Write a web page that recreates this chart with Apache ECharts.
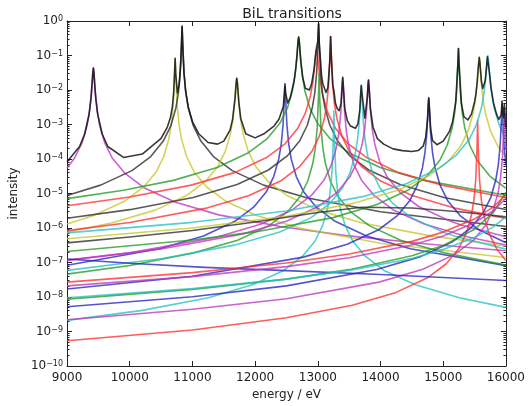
<!DOCTYPE html>
<html>
<head>
<meta charset="utf-8">
<script src="https://cdn.jsdelivr.net/npm/echarts@6/dist/echarts.min.js"></script>
<style>
html,body{margin:0;padding:0;background:#fff;}
#chart{width:528px;height:406px;}
</style>
</head>
<body>
<div id="chart"></div>
<script>
// ---- values: [energy eV, intensity] ----
const lineM9420 = [[9000,5.5e-5],[9120,1.07e-4],[9240,2.97e-4],[9320,9.5e-4],[9360,2.53e-3],[9390,8.6e-3],[9410,0.0298],[9420,0.043],[9430,0.0298],[9450,8.6e-3],[9480,2.53e-3],[9520,9.5e-4],[9600,2.97e-4],[9720,1.07e-4],[9920,3.9e-5],[10220,1.5e-5],[10720,5.7e-6],[11420,2.4e-6],[12400,1.1e-6],[13420,6.1e-7],[14700,3.5e-7],[16000,2.2e-7]];
const lineY10724 = [[9000,1.31e-6],[9424,2.3e-6],[9924,6.1e-6],[10224,1.56e-5],[10424,4.3e-5],[10544,1.2e-4],[10624,3.9e-4],[10664,1.07e-3],[10694,4.1e-3],[10714,0.0263],[10724,0.08],[10734,0.0263],[10754,4.1e-3],[10784,1.07e-3],[10824,3.9e-4],[10904,1.2e-4],[11024,4.3e-5],[11224,1.56e-5],[11524,6.1e-6],[12024,2.3e-6],[12724,9.8e-7],[14000,3.6e-7],[16000,1.4e-7]];
const lineK10835 = [[9000,8.8e-6],[9535,1.75e-5],[10035,4.6e-5],[10335,1.18e-4],[10535,3.3e-4],[10655,9.1e-4],[10735,2.95e-3],[10775,8.1e-3],[10805,0.0314],[10825,0.208],[10835,0.7],[10845,0.208],[10865,0.0314],[10895,8.1e-3],[10935,2.95e-3],[11015,9.1e-4],[11135,3.3e-4],[11335,1.18e-4],[11635,4.6e-5],[12135,1.75e-5],[12835,7.4e-6],[14000,2.95e-6],[16000,1.11e-6]];
const lineY11707 = [[9000,7.6e-7],[9707,1.4e-6],[10407,3.3e-6],[10907,8.8e-6],[11207,2.24e-5],[11407,6.2e-5],[11527,1.72e-4],[11607,5.5e-4],[11647,1.46e-3],[11677,4.9e-3],[11697,0.0158],[11707,0.022],[11717,0.0158],[11737,4.9e-3],[11767,1.46e-3],[11807,5.5e-4],[11887,1.72e-4],[12007,6.2e-5],[12207,2.24e-5],[12507,8.8e-6],[13007,3.3e-6],[13707,1.4e-6],[14800,5.9e-7],[16000,3.0e-7]];
const lineB12476 = [[9000,8.3e-8],[10476,2.5e-7],[11176,5.9e-7],[11676,1.56e-6],[11976,4e-6],[12176,1.1e-5],[12296,3.1e-5],[12376,9.9e-5],[12416,2.7e-4],[12446,1.02e-3],[12466,5.6e-3],[12476,0.0126],[12486,5.6e-3],[12506,1.02e-3],[12536,2.7e-4],[12576,9.9e-5],[12656,3.1e-5],[12776,1.1e-5],[12976,4e-6],[13276,1.56e-6],[13776,5.9e-7],[14476,2.5e-7],[16000,8.1e-8]];
const lineG12694 = [[9000,7.1e-6],[9900,1.24e-5],[10694,2.4e-5],[11394,5.7e-5],[11894,1.52e-4],[12194,3.9e-4],[12394,1.08e-3],[12514,2.97e-3],[12594,9.4e-3],[12634,0.025],[12664,0.082],[12684,0.252],[12694,0.34],[12704,0.252],[12724,0.082],[12754,0.025],[12794,9.4e-3],[12874,2.97e-3],[12994,1.08e-3],[13194,3.9e-4],[13494,1.52e-4],[13994,5.7e-5],[14694,2.4e-5],[16000,8.9e-6]];
const lineR12981 = [[9000,4.4e-6],[10000,7.9e-6],[10981,1.75e-5],[11681,4.1e-5],[12181,1.1e-4],[12481,2.8e-4],[12681,7.8e-4],[12801,2.14e-3],[12881,6.7e-3],[12921,0.0172],[12951,0.0507],[12971,0.12],[12981,0.145],[12991,0.12],[13011,0.0507],[13041,0.0172],[13081,6.7e-3],[13161,2.14e-3],[13281,7.8e-4],[13481,2.8e-4],[13781,1.1e-4],[14281,4.1e-5],[14981,1.75e-5],[16000,7.7e-6]];
const lineK13012 = [[9000,1.91e-6],[10000,3.4e-6],[11012,7.7e-6],[11712,1.82e-5],[12212,4.8e-5],[12512,1.23e-4],[12712,3.4e-4],[12832,9.5e-4],[12912,3.08e-3],[12952,8.4e-3],[12982,0.0328],[13002,0.222],[13012,0.8],[13022,0.222],[13042,0.0328],[13072,8.4e-3],[13112,3.08e-3],[13192,9.5e-4],[13312,3.4e-4],[13512,1.23e-4],[13812,4.8e-5],[14312,1.82e-5],[15012,7.7e-6],[16000,3.45e-6]];
const lineG13020 = [[9000,4.6e-8],[10000,8.2e-8],[11020,1.9e-7],[11720,4.4e-7],[12220,1.17e-6],[12520,3e-6],[12720,8.3e-6],[12840,2.3e-5],[12920,7.5e-5],[12960,2.07e-4],[12990,8.1e-4],[13010,6e-3],[13020,0.03],[13030,6e-3],[13050,8.1e-4],[13080,2.07e-4],[13120,7.5e-5],[13200,2.3e-5],[13320,8.3e-6],[13520,3e-6],[13820,1.17e-6],[14320,4.4e-7],[15020,1.9e-7],[16000,8.4e-8]];
const lineR13204 = [[9000,8.4e-7],[10000,1.44e-6],[11204,3.7e-6],[11904,8.8e-6],[12404,2.3e-5],[12704,5.9e-5],[12904,1.64e-4],[13024,4.6e-4],[13104,1.48e-3],[13144,4.06e-3],[13174,0.0157],[13194,0.104],[13204,0.35],[13214,0.104],[13234,0.0157],[13264,4.06e-3],[13304,1.48e-3],[13384,4.6e-4],[13504,1.64e-4],[13704,5.9e-5],[14004,2.3e-5],[14504,8.8e-6],[15204,3.7e-6],[16000,1.9e-6]];
const lineC13256 = [[9000,2.1e-9],[10200,4.1e-9],[11256,9.5e-9],[11956,2.25e-8],[12456,5.9e-8],[12756,1.52e-7],[12956,4.2e-7],[13076,1.17e-6],[13156,3.8e-6],[13196,1.06e-5],[13226,4.2e-5],[13246,3.3e-4],[13256,2.4e-3],[13266,3.3e-4],[13286,4.2e-5],[13316,1.06e-5],[13356,3.8e-6],[13436,1.17e-6],[13556,4.2e-7],[13756,1.52e-7],[14056,5.9e-8],[14556,2.25e-8],[15256,9.5e-9],[16000,5e-9]];
const lineM13397 = [[9000,1.14e-7],[10000,1.9e-7],[11397,5.5e-7],[12097,1.3e-6],[12597,3.4e-6],[12897,8.8e-6],[13097,2.44e-5],[13217,6.8e-5],[13297,2.18e-4],[13337,5.9e-4],[13367,2.2e-3],[13387,0.011],[13397,0.022],[13407,0.011],[13427,2.2e-3],[13457,5.9e-4],[13497,2.18e-4],[13577,6.8e-5],[13697,2.44e-5],[13897,8.8e-6],[14197,3.4e-6],[14697,1.3e-6],[15397,5.5e-7],[16000,3.2e-7]];
const lineC13693 = [[9000,5.9e-8],[10500,1.28e-7],[11693,3.25e-7],[12393,7.7e-7],[12893,2.0e-6],[13193,5.2e-6],[13393,1.44e-5],[13513,4e-5],[13593,1.29e-4],[13633,3.5e-4],[13663,1.3e-3],[13683,6.5e-3],[13693,0.013],[13703,6.5e-3],[13723,1.3e-3],[13753,3.5e-4],[13793,1.29e-4],[13873,4e-5],[13993,1.44e-5],[14193,5.2e-6],[14493,2.0e-6],[14993,7.7e-7],[15200,5.7e-7],[16000,2.44e-7]];
const lineM13808 = [[9000,1.17e-7],[10500,2.47e-7],[11808,6.75e-7],[12508,1.6e-6],[13008,4.2e-6],[13308,1.08e-5],[13508,3e-5],[13628,8.3e-5],[13708,2.7e-4],[13748,7.3e-4],[13778,2.6e-3],[13798,0.0112],[13808,0.019],[13818,0.0112],[13838,2.6e-3],[13868,7.3e-4],[13908,2.7e-4],[13988,8.3e-5],[14108,3e-5],[14308,1.08e-5],[14608,4.2e-6],[15108,1.6e-6],[15300,1.2e-6],[16000,5.6e-7]];
const lineB14769 = [[9000,1.71e-8],[11000,4.0e-8],[12769,1.43e-7],[13469,3.4e-7],[13969,8.9e-7],[14269,2.3e-6],[14469,6.3e-6],[14589,1.76e-5],[14669,5.6e-5],[14709,1.54e-4],[14739,5.7e-4],[14759,2.85e-3],[14769,5.7e-3],[14779,2.85e-3],[14799,5.7e-4],[14829,1.54e-4],[14869,5.6e-5],[14949,1.76e-5],[15069,6.3e-6],[15269,2.3e-6],[15569,8.9e-7],[16000,3.76e-7]];
const lineG15243 = [[9000,2.08e-7],[11000,4.5e-7],[12000,7.7e-7],[13243,2.0e-6],[13943,4.8e-6],[14443,1.27e-5],[14743,3.2e-5],[14943,9e-5],[15063,2.5e-4],[15143,8.1e-4],[15183,2.2e-3],[15213,8.5e-3],[15233,0.0537],[15243,0.16],[15253,0.0537],[15273,8.5e-3],[15303,2.2e-3],[15343,8.1e-4],[15423,2.5e-4],[15543,9e-5],[15743,3.2e-5],[16000,1.41e-5]];
const lineR15549 = [[9000,5.4e-10],[11000,1.11e-9],[12500,2.5e-9],[13549,5.75e-9],[14249,1.36e-8],[14749,3.6e-8],[15049,9.2e-8],[15249,2.56e-7],[15369,7.1e-7],[15449,2.3e-6],[15489,6.3e-6],[15519,2.5e-5],[15539,1.95e-4],[15549,1.3e-3],[15559,1.95e-4],[15579,2.5e-5],[15609,6.3e-6],[15649,2.3e-6],[15729,7.1e-7],[15849,2.56e-7],[16000,1.13e-7]];
const lineY15575 = [[9000,4.86e-7],[11000,1.0e-6],[12500,2.2e-6],[13575,5.25e-6],[14275,1.24e-5],[14775,3.3e-5],[15075,8.4e-5],[15275,2.3e-4],[15395,6.4e-4],[15475,2.04e-3],[15515,5.4e-3],[15545,0.0183],[15565,0.0614],[15575,0.087],[15585,0.0614],[15605,0.0183],[15635,5.4e-3],[15675,2.04e-3],[15755,6.4e-4],[15875,2.3e-4],[16000,1.16e-4]];
const lineC15711 = [[9000,7.2e-7],[11000,1.46e-6],[12500,3.1e-6],[13711,8.1e-6],[14411,1.92e-5],[14911,5.1e-5],[15211,1.3e-4],[15411,3.6e-4],[15531,9.9e-4],[15611,3.1e-3],[15651,8.3e-3],[15681,0.0265],[15701,0.0764],[15711,0.1],[15721,0.0764],[15741,0.0265],[15771,8.3e-3],[15811,3.1e-3],[15891,9.9e-4],[16000,3.9e-4]];
const lineB15939 = [[9000,5.2e-9],[11000,1.02e-8],[12500,2.1e-8],[13939,6.25e-8],[14639,1.48e-7],[15139,3.9e-7],[15439,1e-6],[15639,2.8e-6],[15759,7.7e-6],[15839,2.5e-5],[15879,6.8e-5],[15909,2.6e-4],[15929,1.52e-3],[15939,3.9e-3],[15949,1.52e-3],[15969,2.6e-4],[16000,6.6e-5]];
const lineM15976 = [[9000,2.2e-9],[11000,4.4e-9],[12500,8.9e-9],[13976,2.7e-8],[14676,6.4e-8],[15176,1.69e-7],[15476,4.3e-7],[15676,1.2e-6],[15796,3.3e-6],[15876,1.08e-5],[15916,3e-5],[15946,1.15e-4],[15966,7.9e-4],[15976,3e-3],[15986,7.9e-4],[16000,1.76e-4]];
const tailBlueLow = [[9000,1.26e-7],[10000,9.5e-8],[11200,7.2e-8],[12500,5.8e-8],[14000,4.5e-8],[16000,3.0e-8]];
const tailBlackBroad = [[9000,3.7e-7],[10000,5.5e-7],[11000,8.5e-7],[12000,1.5e-6],[13000,2.8e-6],[13700,4.0e-6],[14500,3.8e-6],[15300,2.9e-6],[16000,2.1e-6]];
const tailGreenHigh = [[9000,8.7e-9],[11000,1.66e-8],[12500,3.3e-8],[13500,6.2e-8],[14500,1.56e-7],[15000,3.1e-7],[15500,9.2e-7],[15800,2.8e-6],[16000,1.1e-5]];
const tailCyanHigh = [[9000,9.5e-9],[11000,1.75e-8],[12500,3.3e-8],[13500,5.9e-8],[14500,1.3e-7],[15000,2.4e-7],[15500,5.3e-7],[15800,1.08e-6],[16000,2.1e-6]];
const tailRedHigh = [[9000,2.7e-8],[11000,5.1e-8],[12500,9.7e-8],[13500,1.76e-7],[14500,4.1e-7],[15000,7.6e-7],[15500,1.83e-6],[15800,4.1e-6],[16000,9.2e-6]];
const tailMagentaHigh = [[9000,2.1e-8],[11000,3.9e-8],[12500,7.6e-8],[13500,1.37e-7],[14500,3.2e-7],[15000,5.9e-7],[15500,1.42e-6],[15800,3.2e-6],[16000,7.2e-6]];
const sumLine = [[9000,8.3e-5],[9200,2.3e-4],[9280,5.2e-4],[9350,1.92e-3],[9380,5.3e-3],[9400,0.0155],[9410,0.0298],[9420,0.043],[9430,0.0298],[9440,0.0155],[9460,5.3e-3],[9490,1.93e-3],[9560,5.3e-4],[9650,2.3e-4],[9900,1.11e-4],[10200,1.39e-4],[10500,3.95e-4],[10600,8.4e-4],[10650,1.63e-3],[10680,3.26e-3],[10700,8.0e-3],[10714,0.0284],[10724,0.0825],[10734,0.0293],[10760,8.2e-3],[10790,0.0153],[10815,0.0674],[10825,0.208],[10835,0.70],[10845,0.208],[10865,0.0316],[10890,9.8e-3],[10935,3.1e-3],[11000,1.22e-3],[11100,5.4e-4],[11250,3.0e-4],[11400,2.7e-4],[11500,3.3e-4],[11600,6.9e-4],[11640,1.39e-3],[11680,5.9e-3],[11697,0.016],[11707,0.022],[11717,0.016],[11740,4.4e-3],[11770,1.5e-3],[11850,5.4e-4],[12000,4.1e-4],[12150,5.5e-4],[12300,9e-4],[12380,1.41e-3],[12450,3.35e-3],[12466,7.9e-3],[12476,0.0151],[12486,8.3e-3],[12519,4.2e-3],[12560,6.0e-3],[12620,0.0177],[12650,0.0445],[12670,0.1135],[12684,0.253],[12694,0.341],[12704,0.253],[12730,0.063],[12760,0.0229],[12800,0.0113],[12866,0.010],[12900,0.0148],[12940,0.040],[12965,0.111],[12981,0.177],[12990,0.185],[13000,0.254],[13012,0.858],[13024,0.218],[13060,0.0254],[13080,0.0152],[13130,8.5e-3],[13160,0.0116],[13190,0.065],[13204,0.353],[13214,0.107],[13240,0.0132],[13256,9.7e-3],[13280,4.2e-3],[13309,2.9e-3],[13340,2.5e-3],[13370,4.1e-3],[13390,0.016],[13397,0.0234],[13404,0.0162],[13430,2.9e-3],[13470,1.3e-3],[13520,9e-4],[13600,7.8e-4],[13640,1.04e-3],[13670,2.66e-3],[13686,9.3e-3],[13693,0.0136],[13700,9.35e-3],[13750,1.53e-3],[13790,6.3e-3],[13800,0.0137],[13808,0.0195],[13818,0.0117],[13840,2.76e-3],[13880,8.5e-4],[13950,3.9e-4],[14050,2.7e-4],[14200,1.97e-4],[14350,1.75e-4],[14500,1.65e-4],[14600,1.76e-4],[14680,2.35e-4],[14720,4.2e-4],[14750,1.42e-3],[14762,4.0e-3],[14769,5.9e-3],[14776,4.0e-3],[14800,7.3e-4],[14830,3.4e-4],[14900,2.6e-4],[15000,3.3e-4],[15100,6.3e-4],[15150,1.2e-3],[15200,4.5e-3],[15233,0.0544],[15243,0.16],[15253,0.0544],[15290,4.1e-3],[15330,1.68e-3],[15393,1.35e-3],[15450,2.0e-3],[15500,4.5e-3],[15520,7.3e-3],[15540,0.0157],[15549,0.0254],[15560,0.0463],[15575,0.0888],[15585,0.063],[15610,0.0174],[15630,0.0111],[15653,0.0122],[15670,0.0185],[15690,0.044],[15705,0.0913],[15711,0.101],[15717,0.091],[15740,0.0286],[15760,0.0125],[15800,4.35e-3],[15850,2.0e-3],[15887,1.4e-3],[15910,1.3e-3],[15925,1.9e-3],[15939,4.8e-3],[15950,2.25e-3],[15962,1.58e-3],[15976,3.8e-3],[15990,1.15e-3],[16000,8.2e-4]];

// tick values
const xTickStep = 1000;
const yMajorTicks = [1e-10,1e-9,1e-8,1e-7,1e-6,1e-5,1e-4,1e-3,1e-2,1e-1,1];
const yMinorMultipliers = [2,3,4,5,6,7,8,9];

// ---- drawing ----
const colourOf = {b:'#2424c0', g:'#249a24', r:'#ff2e2e', c:'#26c2c2', m:'#bf34bf', y:'#c6c62c', k:'#2a2a2a'};
const componentList = [
  ['m', lineM9420], ['y', lineY10724], ['k', lineK10835], ['y', lineY11707],
  ['b', lineB12476], ['g', lineG12694], ['r', lineR12981], ['k', lineK13012],
  ['g', lineG13020], ['r', lineR13204], ['c', lineC13256], ['m', lineM13397],
  ['c', lineC13693], ['m', lineM13808], ['b', lineB14769], ['g', lineG15243],
  ['r', lineR15549], ['y', lineY15575], ['c', lineC15711], ['b', lineB15939],
  ['m', lineM15976], ['b', tailBlueLow], ['k', tailBlackBroad], ['g', tailGreenHigh],
  ['c', tailCyanHigh], ['r', tailRedHigh], ['m', tailMagentaHigh]
];

const yMinorTicks = [];
yMajorTicks.slice(0, -1).forEach(function (d) {
  yMinorMultipliers.forEach(function (m) { yMinorTicks.push(m * d); });
});

const FONT = 'DejaVu Sans';
const TXT = '#222';
const FRAME = '#222';

function yLabel(v) {
  const e = Math.round(Math.log10(v));
  return '{b|10}{s|' + (e < 0 ? '\u2212' + (-e) : String(e)) + '}';
}
const yRich = {
  b: {fontSize: 12, fontFamily: FONT, color: TXT, lineHeight: 12, verticalAlign: 'bottom'},
  s: {fontSize: 8, fontFamily: FONT, color: TXT, lineHeight: 8, verticalAlign: 'top', padding: [0, 0, 7, 0]}
};

function yAxisDef(pos, ticks, len, withLabels, showLine) {
  return {
    type: 'log', logBase: 10, min: 1e-10, max: 1, position: pos,
    axisLine: {show: showLine, onZero: false, lineStyle: {color: FRAME, width: 1}},
    axisTick: {show: true, inside: true, length: len, customValues: ticks, lineStyle: {color: FRAME, width: 1}},
    axisLabel: withLabels ? {show: true, customValues: ticks, formatter: yLabel, rich: yRich, margin: 4} : {show: false},
    splitLine: {show: false},
    name: (withLabels ? 'intensity' : ''),
    nameLocation: 'middle', nameGap: 41,
    nameTextStyle: {fontSize: 12, fontFamily: FONT, color: TXT}
  };
}
function xAxisDef(pos, withLabels) {
  return {
    type: 'value', min: 9000, max: 16000, interval: xTickStep, position: pos,
    axisLine: {show: true, onZero: false, lineStyle: {color: FRAME, width: 1}},
    axisTick: {show: true, inside: true, length: 5, lineStyle: {color: FRAME, width: 1}},
    axisLabel: withLabels ? {show: true, fontSize: 12, fontFamily: FONT, color: TXT, margin: 6,
      formatter: function (v) { return String(v); }, showMinLabel: true, showMaxLabel: true} : {show: false},
    splitLine: {show: false},
    name: withLabels ? 'energy / eV' : '',
    nameLocation: 'middle', nameGap: 21,
    nameTextStyle: {fontSize: 12, fontFamily: FONT, color: TXT}
  };
}

const series = componentList.map(function (item) {
  return {
    type: 'line', data: item[1], xAxisIndex: 0, yAxisIndex: 0,
    showSymbol: false, symbol: 'none', smooth: false,
    lineStyle: {color: colourOf[item[0]], width: 1.6, opacity: 0.78, join: 'round'},
    silent: true, z: 2, clip: true
  };
});
series.push({
  type: 'line', data: sumLine, xAxisIndex: 0, yAxisIndex: 0,
  showSymbol: false, symbol: 'none', smooth: false,
  lineStyle: {color: '#141414', width: 1.6, opacity: 0.85, join: 'round'},
  silent: true, z: 3, clip: true
});

const chart = echarts.init(document.getElementById('chart'), null, {renderer: 'canvas'});
chart.setOption({
  animation: false,
  backgroundColor: '#fff',
  title: {text: 'BiL transitions', left: 287, top: 2, textAlign: 'center',
    textStyle: {fontSize: 14, fontWeight: 'normal', fontFamily: FONT, color: TXT}},
  grid: {left: 62, top: 21, width: 449, height: 345, containLabel: false},
  xAxis: [xAxisDef('bottom', true), xAxisDef('top', false)],
  yAxis: [
    yAxisDef('left', yMajorTicks, 5, true, true),
    yAxisDef('left', yMinorTicks, 2.5, false, false),
    yAxisDef('right', yMajorTicks, 5, false, true),
    yAxisDef('right', yMinorTicks, 2.5, false, false)
  ],
  series: series
});
</script>
</body>
</html>
